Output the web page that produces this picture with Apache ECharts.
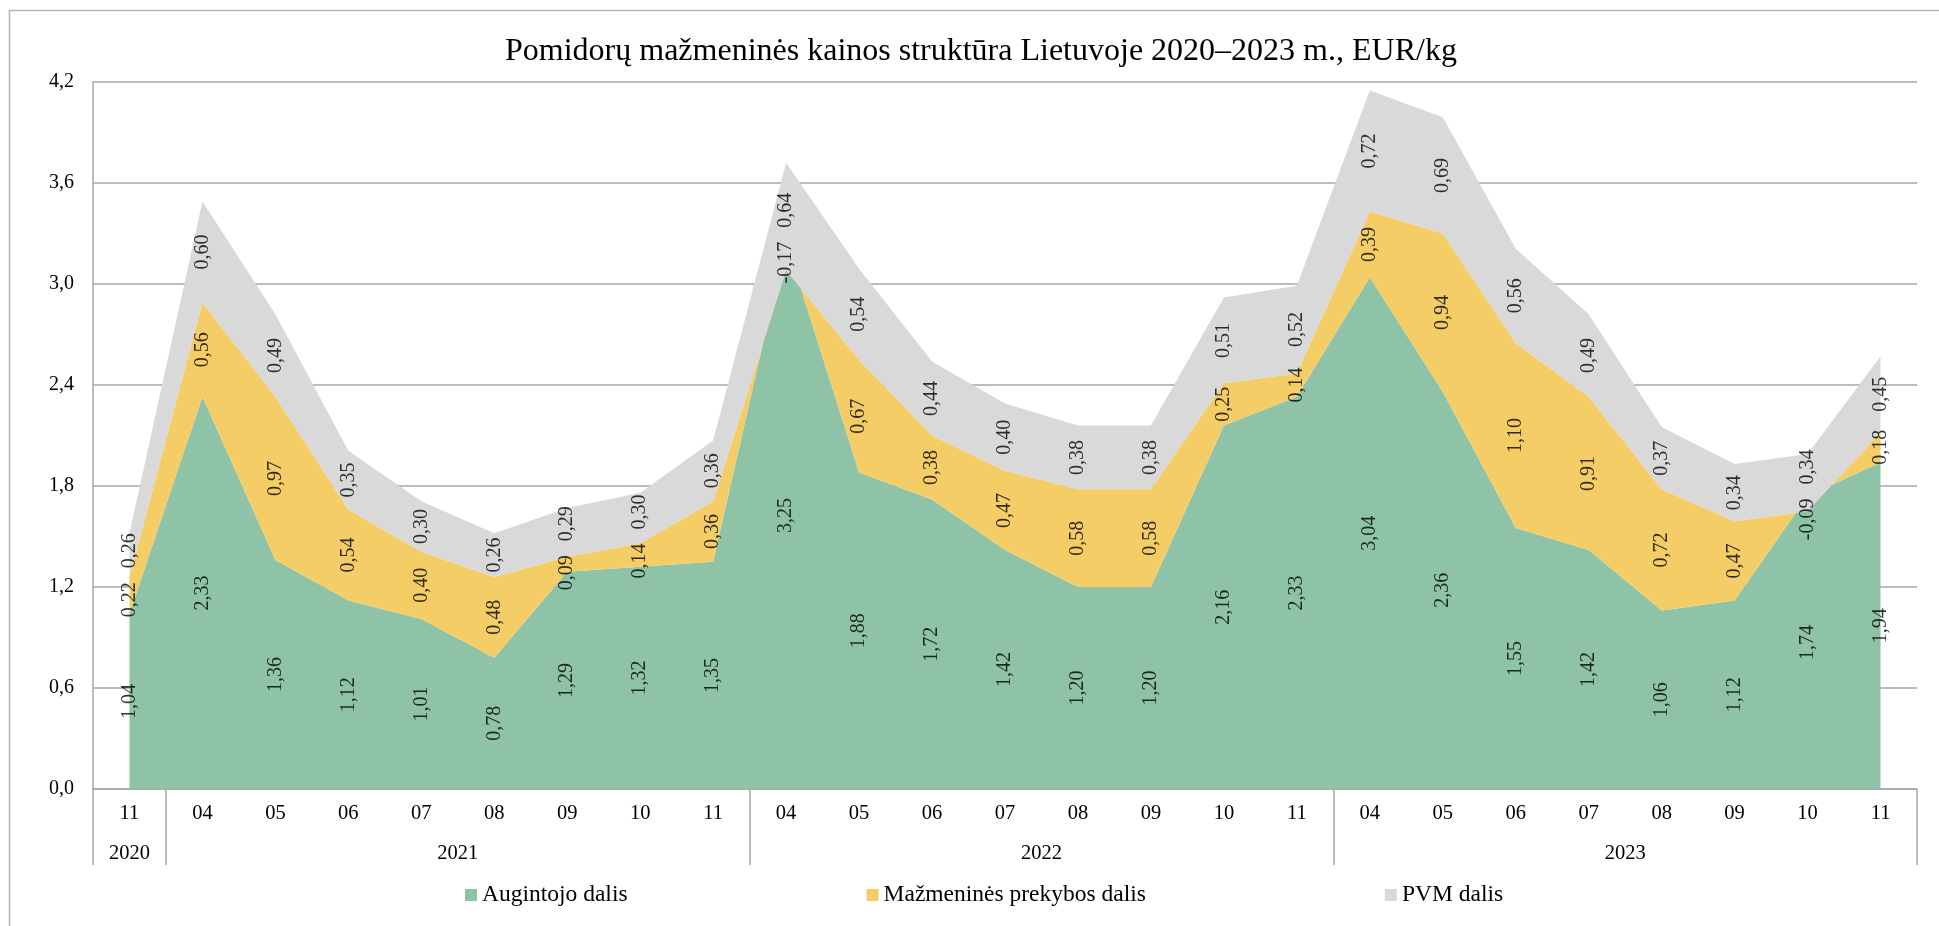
<!DOCTYPE html>
<html>
<head>
<meta charset="utf-8">
<script src="https://cdn.jsdelivr.net/npm/echarts@6/dist/echarts.min.js"></script>
<style>
  html, body { margin: 0; padding: 0; background: #fff; }
  #chart { width: 1939px; height: 926px; }
</style>
</head>
<body>
<div id="chart"></div>
<script>
// Tomato retail price structure, EUR/kg, by month
const years  = ['2020', '2021', '2021', '2021', '2021', '2021', '2021', '2021', '2021',
                '2022', '2022', '2022', '2022', '2022', '2022', '2022', '2022',
                '2023', '2023', '2023', '2023', '2023', '2023', '2023', '2023'];
const months = ['11', '04', '05', '06', '07', '08', '09', '10', '11',
                '04', '05', '06', '07', '08', '09', '10', '11',
                '04', '05', '06', '07', '08', '09', '10', '11'];

const grower = [1.04, 2.33, 1.36, 1.12, 1.01, 0.78, 1.29, 1.32, 1.35,
                3.25, 1.88, 1.72, 1.42, 1.20, 1.20, 2.16, 2.33,
                3.04, 2.36, 1.55, 1.42, 1.06, 1.12, 1.74, 1.94];
const retail = [0.22, 0.56, 0.97, 0.54, 0.40, 0.48, 0.09, 0.14, 0.36,
                -0.17, 0.67, 0.38, 0.47, 0.58, 0.58, 0.25, 0.14,
                0.39, 0.94, 1.10, 0.91, 0.72, 0.47, -0.09, 0.18];
const vat    = [0.26, 0.60, 0.49, 0.35, 0.30, 0.26, 0.29, 0.30, 0.36,
                0.64, 0.54, 0.44, 0.40, 0.38, 0.38, 0.51, 0.52,
                0.72, 0.69, 0.56, 0.49, 0.37, 0.34, 0.34, 0.45];

const seriesNames = ['Augintojo dalis', 'Mažmeninės prekybos dalis', 'PVM dalis'];
const colors = ['#8EC3A7', '#F5CD67', '#D9D9D9'];
const valueLists = [grower, retail, vat];

const FONT = 'Liberation Serif';
const LABEL_SIZE = 20;
const AXIS_GREY = '#A6A6A6';
const fmt = (v, d) => v.toFixed(d).replace('.', ',');

// Year groups on the category axis: boundaries and centres in band units
const boundaries = [0];
const yearCenters = [];
const yearNames = [];
let start = 0;
for (let i = 1; i <= years.length; i++) {
  if (i === years.length || years[i] !== years[start]) {
    boundaries.push(i);
    yearCenters.push((start + i) / 2);
    yearNames.push(years[start]);
    start = i;
  }
}

// Label anchors start in the middle of each stacked band
const anchors = valueLists.map((vals, s) => vals.map((v, i) => {
  let base = 0;
  for (let k = 0; k < s; k++) base += valueLists[k][i];
  return base + v / 2;
}));

const areaSeries = valueLists.map((vals, s) => ({
  name: seriesNames[s],
  type: 'line',
  stack: 'total',
  stackStrategy: 'all',
  data: vals,
  symbol: 'none',
  lineStyle: { width: 0 },
  areaStyle: { color: colors[s], opacity: 1 },
  itemStyle: { color: colors[s] },
  emphasis: { disabled: true },
  z: 2
}));

const labelSeries = () => valueLists.map((vals, s) => ({
  id: 'lbl' + s,
  type: 'scatter',
  data: anchors[s],
  symbolSize: 1,
  itemStyle: { color: 'rgba(0,0,0,0)' },
  label: {
    show: true,
    position: 'inside',
    rotate: 90,
    color: '#000',
    fontFamily: FONT,
    fontSize: LABEL_SIZE,
    formatter: p => fmt(vals[p.dataIndex], 2)
  },
  emphasis: { disabled: true },
  z: 5
}));

const chart = echarts.init(document.getElementById('chart'));
chart.setOption({
  animation: false,
  backgroundColor: '#fff',
  title: {
    text: 'Pomidorų mažmeninės kainos struktūra Lietuvoje 2020–2023 m., EUR/kg',
    left: 505,
    top: 36,
    padding: 0,
    textStyle: { fontFamily: FONT, fontSize: 32, fontWeight: 'normal', color: '#000' }
  },
  graphic: [{
    type: 'rect',
    shape: { x: 9.5, y: 10.5, width: 2000, height: 1000 },
    style: { fill: 'none', stroke: '#B4B4B4', lineWidth: 1.5 },
    silent: true
  }],
  legend: {
    data: seriesNames,
    left: 460,
    top: 878,
    itemWidth: 12,
    itemHeight: 12,
    itemGap: 239,
    icon: 'rect',
    textStyle: { fontFamily: FONT, fontSize: 23.5, color: '#000', padding: [0, 0, 0, 0] }
  },
  grid: { left: 93, right: 22, top: 82, bottom: 137 },
  xAxis: [{
    type: 'category',
    data: months,
    boundaryGap: true,
    axisLine: { show: true, lineStyle: { color: AXIS_GREY, width: 1.5 } },
    axisTick: { show: false },
    axisLabel: { fontFamily: FONT, fontSize: 20.5, color: '#000', margin: 14, interval: 0 },
    splitLine: { show: false }
  }, {
    type: 'value',
    position: 'bottom',
    min: 0,
    max: years.length,
    axisLine: { show: false },
    axisTick: {
      show: true,
      length: 76,
      customValues: boundaries,
      lineStyle: { color: AXIS_GREY, width: 1.5 }
    },
    axisLabel: {
      show: true,
      customValues: yearCenters,
      fontFamily: FONT,
      fontSize: 20.5,
      color: '#000',
      margin: 54,
      formatter: v => yearNames[yearCenters.indexOf(v)] || ''
    },
    splitLine: { show: false }
  }],
  yAxis: {
    type: 'value',
    min: 0,
    max: 4.2,
    interval: 0.6,
    axisLine: { show: true, lineStyle: { color: AXIS_GREY, width: 1.5 } },
    axisTick: { show: false },
    axisLabel: { fontFamily: FONT, fontSize: 20, color: '#000', margin: 19, formatter: v => fmt(v, 1) },
    splitLine: { show: true, lineStyle: { color: AXIS_GREY, width: 1.5 } }
  },
  series: areaSeries.concat(labelSeries())
});

// Spread apart vertical labels that would collide within one month column
const ctx = document.createElement('canvas').getContext('2d');
ctx.font = LABEL_SIZE + 'px "' + FONT + '"';
const MIN_GAP = 14;
const finder = { seriesId: 'lbl0' };
for (let i = 0; i < months.length; i++) {
  const ys = anchors.map(a => chart.convertToPixel(finder, [i, a[i]])[1]);
  const lens = valueLists.map(v => ctx.measureText(fmt(v[i], 2)).width);
  for (let pass = 0; pass < 12; pass++) {
    for (let s = 0; s < ys.length - 1; s++) {
      const need = (lens[s] + lens[s + 1]) / 2 + MIN_GAP;
      const gap = ys[s] - ys[s + 1];
      if (gap < need) {
        const d = (need - gap) / 2;
        ys[s] += d;
        ys[s + 1] -= d;
      }
    }
  }
  ys.forEach((y, s) => { anchors[s][i] = chart.convertFromPixel(finder, [0, y])[1]; });
}
chart.setOption({ series: labelSeries().map(s => ({ id: s.id, data: s.data })) });
</script>
</body>
</html>
